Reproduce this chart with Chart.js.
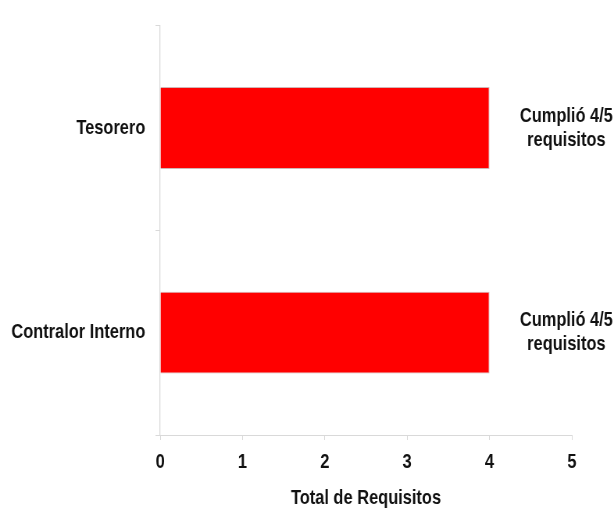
<!DOCTYPE html>
<html>
<head>
<meta charset="utf-8">
<script src="https://cdn.jsdelivr.net/npm/chart.js@4"></script>
<style>
  html, body { margin: 0; padding: 0; background: #fff; overflow: hidden; }
  /* el lienzo se dibuja más ancho y se comprime para imitar la fuente angosta */
  #wrap { width: 786px; height: 511px; transform: scaleX(0.78117); transform-origin: 0 0; }
</style>
</head>
<body>
<div id="wrap"><canvas id="grafico"></canvas></div>
<script>
const cargos = ["Tesorero", "Contralor Interno"];
const requisitos = [4, 4];
const etiquetasBarra = [["Cumplió 4/5", "requisitos"], ["Cumplió 4/5", "requisitos"]];
const ticksX = [0, 1, 2, 3, 4, 5];

const fuente = "'Liberation Sans', Arial, sans-serif";
const gris = "#d9d9d9";

// texto a la derecha de cada barra
const notasPlugin = {
    id: "notas",
    afterDatasetsDraw(chart) {
        const ctx = chart.ctx;
        const yScale = chart.scales.y;
        ctx.save();
        ctx.fillStyle = "#111";
        ctx.font = "bold 21px " + fuente;
        ctx.textAlign = "center";
        ctx.textBaseline = "middle";
        etiquetasBarra.forEach((lineas, i) => {
            const y = yScale.getPixelForValue(i);
            lineas.forEach((linea, j) => {
                ctx.fillText(linea, 725, y + (j - (lineas.length - 1) / 2) * 24);
            });
        });
        ctx.restore();
    },
};

const ctx = document.querySelector("#grafico").getContext("2d");
new Chart(ctx, {
    type: "bar",
    data: {
        labels: cargos,
        datasets: [
            {
                data: requisitos,
                backgroundColor: "#ff0000",
                borderColor: "rgba(190,150,150,0.7)",
                borderWidth: 1,
                categoryPercentage: 1,
                barPercentage: 0.4,
            },
        ],
    },
    options: {
        indexAxis: "y",
        responsive: true,
        maintainAspectRatio: false,
        devicePixelRatio: 1,
        animation: false,
        layout: { padding: { top: 15, right: 54, left: 0, bottom: 0 } },
        plugins: {
            legend: { display: false },
            tooltip: { enabled: false },
        },
        scales: {
            x: {
                min: 0,
                max: 5,
                afterBuildTicks: (eje) => {
                    eje.ticks = ticksX.map((v) => ({ value: v }));
                },
                afterFit: (eje) => { eje.height = 76; },
                border: { color: gris, width: 1 },
                grid: { drawOnChartArea: false, drawTicks: true, tickLength: 5, color: gris },
                ticks: { color: "#111", padding: 10, font: { family: fuente, size: 21, weight: "bold" } },
                title: {
                    display: true,
                    text: "Total de Requisitos",
                    color: "#111",
                    padding: { top: 4, bottom: 0 },
                    font: { family: fuente, size: 21, weight: "bold" },
                },
            },
            y: {
                afterFit: (eje) => { eje.width = 205; },
                border: { color: gris, width: 1.3 },
                grid: { drawOnChartArea: false, drawTicks: true, tickLength: 6, color: gris, offset: true },
                ticks: { color: "#111", padding: 13, font: { family: fuente, size: 21, weight: "bold" } },
            },
        },
    },
    plugins: [notasPlugin],
});
</script>
</body>
</html>
